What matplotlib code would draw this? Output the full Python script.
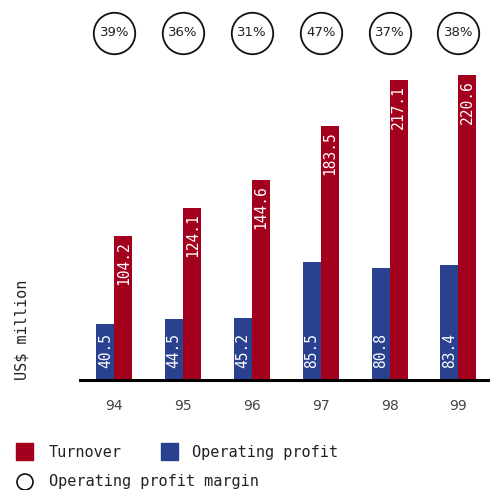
import matplotlib
matplotlib.use("Agg")
import matplotlib.pyplot as plt
from matplotlib.patches import Rectangle, Circle

years = ["94", "95", "96", "97", "98", "99"]
turnover = [104.2, 124.1, 144.6, 183.5, 217.1, 220.6]
op_profit = [40.5, 44.5, 45.2, 85.5, 80.8, 83.4]
margin = ["39%", "36%", "31%", "47%", "37%", "38%"]

RED = "#A3001E"
BLUE = "#29418E"
MONO = "DejaVu Sans Mono"
W = 490.0

fig = plt.figure(figsize=(4.9, 4.9), dpi=100)
ax = fig.add_axes([80 / W, 110 / W, 410 / W, 320 / W])

px_per_unit = 1.382
x = list(range(len(years)))
bw = 0.262
ax.bar([i - bw / 2 for i in x], op_profit, width=bw, color=BLUE)
ax.bar([i + bw / 2 for i in x], turnover, width=bw, color=RED)

for i in x:
    ax.text(i - bw / 2, 12 / px_per_unit, f"{op_profit[i]:.1f}", rotation=90,
            ha="center", va="bottom", color="white", family=MONO, fontsize=10.5)
    ax.text(i + bw / 2, turnover[i] - 5 / px_per_unit, f"{turnover[i]:.1f}", rotation=90,
            ha="center", va="top", color="white", family=MONO, fontsize=10.5)

# margin circles above the bars
cy = 347 / px_per_unit
ax.scatter(x, [cy] * len(x), s=890, facecolors="white", edgecolors="#111111",
           linewidths=1.3, clip_on=False, zorder=3)
for i in x:
    ax.text(i, cy, margin[i], ha="center", va="center", fontsize=9.5,
            color="#222222", zorder=4)

ax.set_xlim(-0.5, -0.5 + 410 / 68.8)
ax.set_ylim(0, 320 / px_per_unit)
ax.set_xticks(x)
ax.set_xticklabels(years, fontsize=10, color="#444444")
ax.tick_params(axis="x", length=0, pad=14)
ax.set_yticks([])
for s in ["top", "right", "left"]:
    ax.spines[s].set_visible(False)
ax.spines["bottom"].set_linewidth(2.2)
ax.spines["bottom"].set_color("black")

fig.text(22 / W, 110 / W, "US$ million", rotation=90, ha="center", va="bottom",
         family=MONO, fontsize=11, color="#222222")

# legend
fig.patches.append(Rectangle((16 / W, (W - 460) / W), 17 / W, 17 / W,
                             transform=fig.transFigure, color=RED))
fig.text(49 / W, (W - 452) / W, "Turnover", va="center", family=MONO,
         fontsize=11, color="#222222")
fig.patches.append(Rectangle((161 / W, (W - 460) / W), 17 / W, 17 / W,
                             transform=fig.transFigure, color=BLUE))
fig.text(192 / W, (W - 452) / W, "Operating profit", va="center", family=MONO,
         fontsize=11, color="#222222")
fig.patches.append(Circle((25 / W, (W - 482) / W), 8 / W, transform=fig.transFigure,
                          facecolor="white", edgecolor="#111111", linewidth=1.2))
fig.text(49 / W, (W - 481) / W, "Operating profit margin", va="center", family=MONO,
         fontsize=11, color="#222222")

fig.savefig("out.png", dpi=100)
